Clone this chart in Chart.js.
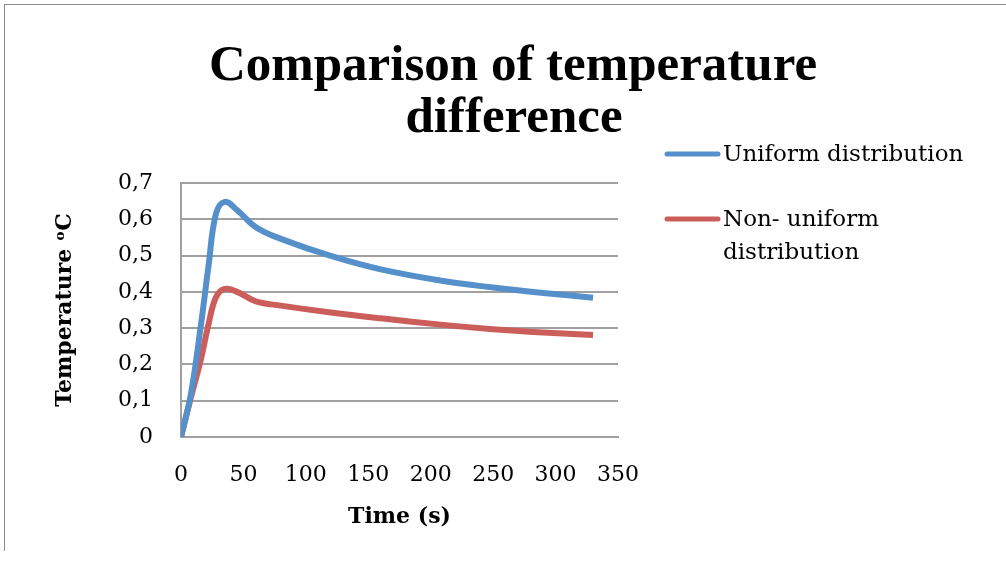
<!DOCTYPE html>
<html>
<head>
<meta charset="utf-8">
<script src="https://cdn.jsdelivr.net/npm/chart.js@4"></script>
<style>
  html, body { margin: 0; padding: 0; background: #fff; overflow: hidden; }
  #wrap { position: relative; width: 1006px; height: 564px; }
  #frame { position: absolute; left: 4px; top: 4px; width: 1100px; height: 546px;
           border-left: 1px solid #8c8c8c; border-top: 1px solid #8c8c8c; pointer-events: none; }
  canvas { position: absolute; left: 0; top: 0; }
</style>
</head>
<body>
<div id="wrap">
  <canvas id="chart" width="1006" height="564"></canvas>
  <div id="frame"></div>
</div>
<script>
// values
const timeSec = [0, 8, 16, 22, 28, 35, 45, 60, 80, 120, 160, 210, 250, 290, 330];
const uniformTemp = [0, 0.12, 0.31, 0.47, 0.615, 0.648, 0.625, 0.578, 0.546, 0.499, 0.462, 0.430, 0.412, 0.397, 0.384];
const nonUniformTemp = [0, 0.11, 0.215, 0.31, 0.385, 0.408, 0.40, 0.374, 0.362, 0.343, 0.327, 0.309, 0.297, 0.288, 0.281];

const titleLines = ['Comparison of temperature', 'difference'];
const seriesNames = ['Uniform distribution', ['Non- uniform', 'distribution']];
const xTitle = 'Time (s)';
const yTitle = 'Temperature \u1D52C';

const blue = '#5690CB';
const red = '#CB5E5A';
const gridGray = '#a0a0a0';

function toPoints(xs, ys) {
  return xs.map((x, i) => ({ x: x, y: ys[i] }));
}

// title + legend drawn straight onto the canvas
const decorPlugin = {
  id: 'decor',
  afterDraw(chart) {
    const ctx = chart.ctx;
    ctx.save();
    ctx.fillStyle = '#000';
    ctx.textAlign = 'center';
    ctx.textBaseline = 'alphabetic';
    ctx.font = 'bold 51px "Liberation Serif"';
    ctx.fillText(titleLines[0], 513, 80);
    ctx.fillText(titleLines[1], 514, 132);

    // legend
    const rows = [
      { color: blue, y: 154, text: seriesNames[0] },
      { color: red, y: 219, text: seriesNames[1] }
    ];
    ctx.font = '23px "DejaVu Serif"';
    ctx.textAlign = 'left';
    ctx.textBaseline = 'middle';
    rows.forEach(r => {
      ctx.strokeStyle = r.color;
      ctx.lineWidth = 5;
      ctx.lineCap = 'round';
      ctx.beginPath();
      ctx.moveTo(667, r.y);
      ctx.lineTo(718, r.y);
      ctx.stroke();
      const lines = Array.isArray(r.text) ? r.text : [r.text];
      lines.forEach((t, i) => {
        ctx.fillText(t, 723, r.y + 1 + i * 33);
      });
    });
    ctx.restore();
  }
};

const ctx = document.getElementById('chart').getContext('2d');
new Chart(ctx, {
  type: 'line',
  data: {
    datasets: [
      {
        label: 'Uniform distribution',
        data: toPoints(timeSec, uniformTemp),
        borderColor: blue,
        borderWidth: 6,
        pointRadius: 0,
        tension: 0.4,
        fill: false
      },
      {
        label: 'Non- uniform distribution',
        data: toPoints(timeSec, nonUniformTemp),
        borderColor: red,
        borderWidth: 6,
        pointRadius: 0,
        tension: 0.4,
        fill: false
      }
    ]
  },
  options: {
    responsive: false,
    animation: false,
    layout: { padding: { top: 183, right: 388, left: 0, bottom: 0 } },
    plugins: {
      legend: { display: false },
      title: { display: false },
      tooltip: { enabled: false }
    },
    scales: {
      x: {
        type: 'linear',
        min: 0,
        max: 350,
        ticks: {
          stepSize: 50,
          padding: 25,
          color: '#000',
          font: { family: 'DejaVu Serif', size: 22 },
          maxRotation: 0
        },
        grid: { display: false, drawTicks: false },
        border: { color: gridGray, width: 2 },
        title: {
          display: true,
          text: xTitle,
          color: '#000',
          font: { family: 'DejaVu Serif', size: 22, weight: 'bold' },
          padding: { top: 0, bottom: 34 }
        },
        afterFit(axis) { axis.height = 127; }
      },
      y: {
        min: 0,
        max: 0.7,
        ticks: {
          stepSize: 0.1,
          padding: 28,
          color: '#000',
          font: { family: 'DejaVu Serif', size: 22 },
          callback: v => v === 0 ? '0' : v.toFixed(1).replace('.', ',')
        },
        grid: { color: gridGray, lineWidth: 2, drawTicks: false },
        border: { color: gridGray, width: 2 },
        title: {
          display: true,
          text: yTitle,
          color: '#000',
          font: { family: 'DejaVu Serif', size: 22, weight: 'bold' },
          padding: { top: 52, bottom: 0 }
        },
        afterFit(axis) { axis.width = 181; }
      }
    }
  },
  plugins: [decorPlugin]
});
</script>
</body>
</html>
